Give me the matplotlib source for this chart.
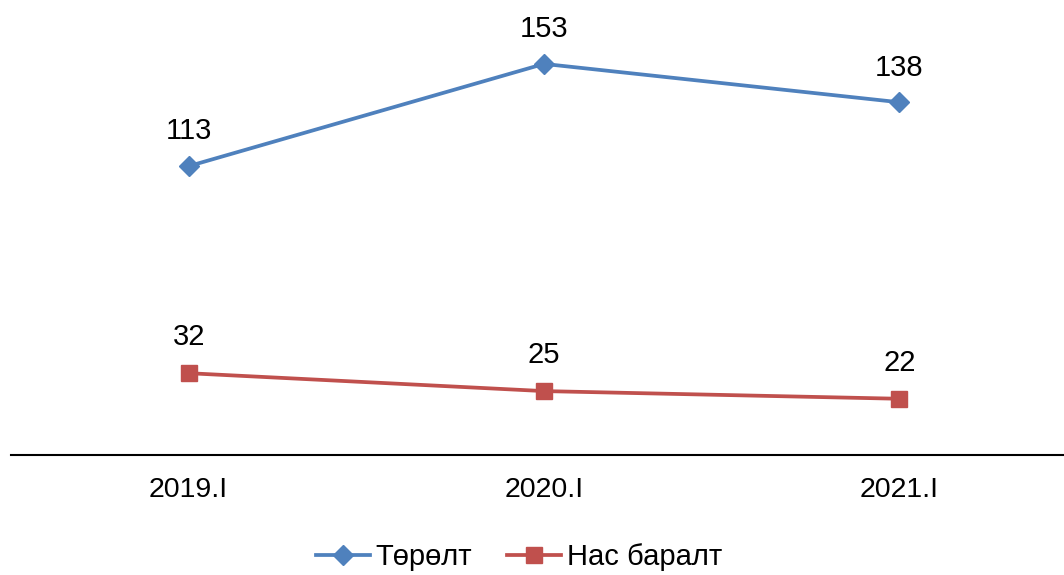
import matplotlib
matplotlib.use("Agg")
import matplotlib.pyplot as plt

categories = ["2019.I", "2020.I", "2021.I"]
births = [113, 153, 138]
deaths = [32, 25, 22]
series_names = ["Төрөлт", "Нас баралт"]

plt.rcParams['font.family'] = ['Liberation Sans', 'DejaVu Sans']

fig = plt.figure(figsize=(10.64, 5.75), dpi=100)
ax = fig.add_axes([11/1064, 1 - 455/575, 1066/1064, 455/575])

x = list(range(len(categories)))
blue = "#4F81BD"
red = "#C0504D"
ax.plot(x, births, color=blue, lw=2.7, marker="D", ms=10, label=series_names[0], clip_on=False)
ax.plot(x, deaths, color=red, lw=2.7, marker="s", ms=11, label=series_names[1], clip_on=False)

for xi, v in zip(x, births):
    ax.annotate(str(v), (xi, v), xytext=(0, 25), textcoords="offset points",
                ha="center", va="center", fontsize=21)
for xi, v in zip(x, deaths):
    ax.annotate(str(v), (xi, v), xytext=(0, 26), textcoords="offset points",
                ha="center", va="center", fontsize=21)

ax.set_xlim(-0.5, 2.5)
ax.set_ylim(0, 178)
ax.set_xticks(x)
ax.set_xticklabels(categories, fontsize=20.5)
ax.tick_params(axis="x", length=0, pad=16)
ax.set_yticks([])
for s in ["top", "right", "left"]:
    ax.spines[s].set_visible(False)
ax.spines["bottom"].set_linewidth(1.5)

fig.legend(loc="center", bbox_to_anchor=(519/1064, 1 - 557/575), ncol=2, frameon=False,
           fontsize=21, handlelength=1.85, handletextpad=0.2, columnspacing=1.2,
           borderpad=0, borderaxespad=0)

fig.savefig("out.png", dpi=100)
